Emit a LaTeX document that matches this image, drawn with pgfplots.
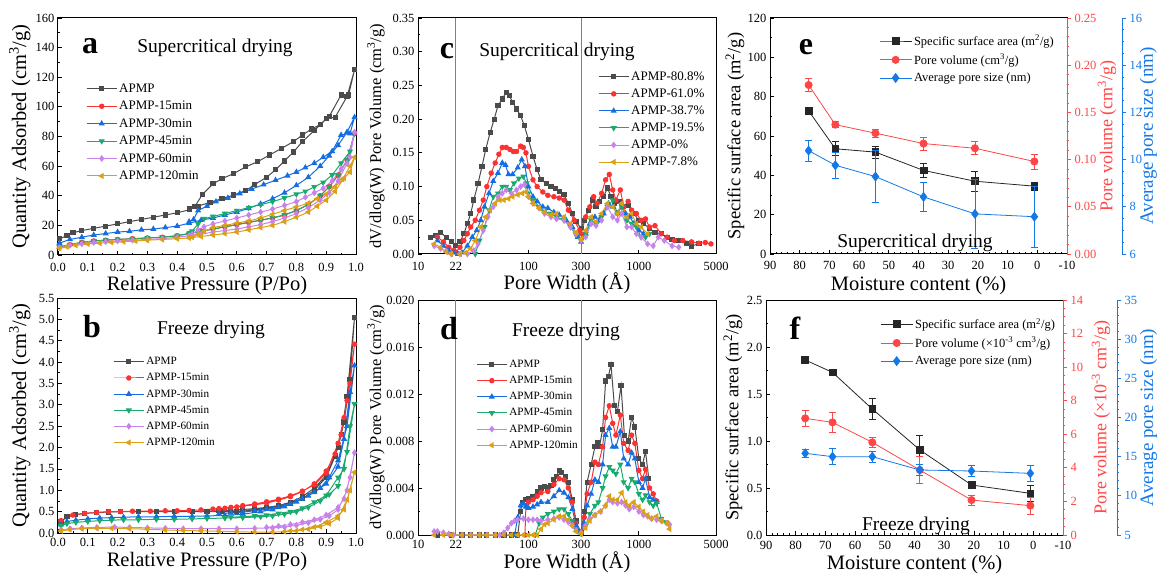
\documentclass[border=0pt]{standalone}
\usepackage{fontspec}
\setmainfont{Liberation Serif}
\usepackage{pgfplots}
\pgfplotsset{compat=1.18}
\definecolor{cgray}{RGB}{75,75,75}
\definecolor{cred}{RGB}{250,50,50}
\definecolor{cblue}{RGB}{20,110,225}
\definecolor{cgreen}{RGB}{25,170,110}
\definecolor{cpurp}{RGB}{200,130,235}
\definecolor{corange}{RGB}{220,160,20}
\definecolor{ered}{RGB}{255,70,70}
\definecolor{eblue}{RGB}{20,120,230}
\newcommand{\fs}[1]{\fontsize{#1}{#1}\selectfont}
\pgfplotsset{
  panel/.style={scale only axis, anchor=south west, tick pos=left, tick align=inside,
    axis line style={line width=1pt}, every tick/.append style={line width=0.8pt, black},
    major tick length=4pt, minor tick length=2.2pt,
    tick label style={font=\fs{12.5}}, xticklabel shift=5pt,
    /pgf/number format/assume math mode=true, scaled ticks=false,
    label style={font=\fs{20.5}, inner sep=0pt},
    legend cell align=left,
    legend image code/.code={\draw[mark repeat=2,mark phase=2] plot coordinates {(0pt,0pt)(15pt,0pt)(30pt,0pt)};},
    legend style={draw=none, fill=none, anchor=north west},
  },
  yfix/.style={yticklabel style={/pgf/number format/fixed, /pgf/number format/fixed zerofill, /pgf/number format/precision=#1}},
  xfix/.style={xticklabel style={/pgf/number format/fixed, /pgf/number format/fixed zerofill, /pgf/number format/precision=#1}},
  sA/.style={color=cgray, mark=square*, line width=1pt, mark size=2.1pt},
  sB/.style={color=cred, mark=*, line width=1pt, mark size=2.2pt},
  sC/.style={color=cblue, mark=triangle*, line width=1pt, mark size=2.6pt},
  sD/.style={color=cgreen, mark=triangle*, mark options={rotate=180}, line width=1pt, mark size=2.6pt},
  sE/.style={color=cpurp, mark=diamond*, line width=1pt, mark size=2.6pt},
  sF/.style={color=corange, mark=triangle*, mark options={rotate=90}, line width=1pt, mark size=2.6pt},
  ebar/.style={error bars/.cd, y dir=both, y explicit,
    error bar style={line width=0.8pt}, error mark options={rotate=90, mark size=3.5pt, line width=0.8pt}},
  kS/.style={black!85, mark=square*, line width=0.8pt, mark size=3.4pt, mark options={solid}},
  rS/.style={ered, mark=*, line width=0.8pt, mark size=3.6pt},
  bS/.style={eblue, mark=diamond*, line width=0.8pt, mark size=4.4pt},
  raxis/.style={scale only axis, anchor=south west, axis x line=none, axis y line*=right,
    tick align=outside, major tick length=4pt, minor tick length=2pt,
    axis line style={line width=1pt}, tick label style={font=\fs{12.5}},
    /pgf/number format/assume math mode=true, scaled ticks=false, label style={font=\fs{18}, inner sep=0pt}},
}
\begin{document}
\begin{tikzpicture}
\useasboundingbox (0pt,0pt) rectangle (1161pt,576pt);

% ---------- a ----------
\begin{axis}[panel, at={(58pt,321pt)}, width=298pt, height=237pt,
  xmin=0, xmax=1, ymin=0, ymax=160,
  xtick={0,0.1,0.2,0.3,0.4,0.5,0.6,0.7,0.8,0.9,1.0}, ytick={0,20,40,60,80,100,120,140,160},
  minor x tick num=1, minor y tick num=1, xfix=1,
  xlabel={Relative Pressure (P/Po)}, ylabel={Quantity Adsorbed (cm\textsuperscript{3}/g)},
  xlabel style={at={(axis description cs:0.5,-0.127)}, anchor=center},
  ylabel style={at={(axis description cs:-0.128,0.5)}, anchor=center},
  legend style={at={(axis description cs:0.084,0.74)}, font=\fs{13}, row sep=3.3pt}]
\addplot[sA] coordinates {(0.005,11)(0.03,13)(0.05,15)(0.08,16.5)(0.12,18)(0.16,19.5)(0.2,21)(0.24,22.5)(0.28,24)(0.32,25.5)(0.36,27)(0.4,28.5)(0.44,30.5)(0.47,33)(0.51,35.5)(0.55,38)(0.59,40.5)(0.63,43.5)(0.66,47.5)(0.7,52.5)(0.73,57.5)(0.76,63.5)(0.79,69.5)(0.82,76.5)(0.86,84)(0.9,92)(0.93,93)(0.97,107)(0.995,125)(0.975,108)(0.95,108)(0.91,93.5)(0.88,88)(0.85,85)(0.82,81)(0.79,76.5)(0.75,72)(0.71,67.5)(0.67,63)(0.63,59.5)(0.59,55)(0.55,51.5)(0.52,48)(0.485,41)(0.46,33)(0.44,31)};
\addlegendentry{APMP}
\addplot[sB] coordinates {(0.005,5.5)(0.04,7)(0.08,8.5)(0.12,9.5)(0.16,10)(0.2,10.5)(0.25,11)(0.3,11.5)(0.35,12)(0.4,13)(0.44,14.5)(0.48,16)(0.52,17.5)(0.56,19)(0.6,20.5)(0.64,22)(0.68,23.5)(0.72,25)(0.76,27)(0.8,30)(0.84,34)(0.88,40)(0.91,46)(0.94,54)(0.97,64)(0.995,82)};
\addlegendentry{APMP-15min}
\addplot[sC] coordinates {(0.005,8)(0.04,10.5)(0.08,12)(0.12,13.5)(0.16,14.5)(0.2,15.5)(0.24,16)(0.28,17)(0.32,17.5)(0.36,18.5)(0.4,19.5)(0.44,21.5)(0.48,23.5)(0.52,25)(0.56,27)(0.6,29)(0.64,31.5)(0.68,34.5)(0.72,38)(0.76,42)(0.8,47)(0.84,52.5)(0.88,60)(0.91,67)(0.94,74)(0.97,83)(0.995,93)(0.98,82)(0.95,81)(0.92,70)(0.89,66)(0.86,62)(0.83,59)(0.8,56)(0.77,53.5)(0.73,50.5)(0.69,47.5)(0.65,44.5)(0.61,41.5)(0.57,38.5)(0.53,36)(0.5,33)(0.47,30)(0.455,24)(0.44,22.5)};
\addlegendentry{APMP-30min}
\addplot[sD] coordinates {(0.005,5.5)(0.04,7)(0.08,8.5)(0.12,9.5)(0.16,10)(0.2,10.5)(0.25,11)(0.3,11.5)(0.35,12)(0.4,13)(0.44,14.5)(0.48,16)(0.52,17.5)(0.56,19)(0.6,20.5)(0.64,22)(0.68,23.5)(0.72,25)(0.76,27)(0.8,30)(0.84,34)(0.88,40)(0.91,46)(0.94,54)(0.97,64)(0.995,82)(0.98,70)(0.95,62)(0.92,54)(0.89,49)(0.86,46)(0.83,43)(0.8,41)(0.76,38.5)(0.72,36)(0.68,34)(0.64,32)(0.6,30)(0.56,28)(0.52,26)(0.49,24.5)(0.47,21)(0.45,16)};
\addlegendentry{APMP-45min}
\addplot[sE] coordinates {(0.005,5)(0.04,6.5)(0.08,7.5)(0.12,8.5)(0.16,9)(0.2,9.5)(0.25,10)(0.3,10.5)(0.35,11)(0.4,12)(0.44,13)(0.48,14)(0.52,15.5)(0.56,16.5)(0.6,17.5)(0.64,19)(0.68,20.5)(0.72,22.5)(0.76,25)(0.8,28)(0.84,32)(0.88,37)(0.91,42)(0.94,50)(0.97,62)(0.995,83)(0.98,66)(0.95,58)(0.92,50)(0.89,45)(0.86,42)(0.83,39)(0.8,36)(0.76,33.5)(0.72,31)(0.68,29)(0.64,27)(0.6,25)(0.56,23)(0.52,21)(0.49,19)(0.47,17)(0.45,14)};
\addlegendentry{APMP-60min}
\addplot[sF] coordinates {(0.005,4.5)(0.03,5.5)(0.06,6.5)(0.1,7.5)(0.14,8)(0.18,8.5)(0.22,9)(0.26,9.5)(0.3,10)(0.35,10.5)(0.4,11)(0.44,11.5)(0.48,12.5)(0.52,13.5)(0.56,14.5)(0.6,15.5)(0.64,17)(0.68,18.5)(0.72,20)(0.76,22.5)(0.8,25.5)(0.84,29)(0.87,33)(0.9,37)(0.93,43)(0.96,52)(0.98,56)(0.995,66)(0.98,60)(0.955,51)(0.93,46)(0.9,41)(0.87,38)(0.84,35)(0.8,32.5)(0.76,30)(0.72,27.5)(0.68,25)(0.64,23)(0.6,21.5)(0.56,20)(0.52,18.5)(0.49,16)(0.47,14)(0.45,12)};
\addlegendentry{APMP-120min}
\end{axis}

% ---------- b ----------
\begin{axis}[panel, at={(58pt,43pt)}, width=298pt, height=235pt, xticklabel shift=2pt,
  xmin=0, xmax=1, ymin=0, ymax=5.5,
  xtick={0,0.1,0.2,0.3,0.4,0.5,0.6,0.7,0.8,0.9,1.0}, ytick={0,0.5,1,1.5,2,2.5,3,3.5,4,4.5,5,5.5},
  minor x tick num=1, minor y tick num=1, xfix=1, yfix=1,
  xlabel={Relative Pressure (P/Po)}, ylabel={Quantity Adsorbed (cm\textsuperscript{3}/g)},
  xlabel style={at={(axis description cs:0.5,-0.121)}, anchor=center},
  ylabel style={at={(axis description cs:-0.128,0.5)}, anchor=center},
  legend style={at={(axis description cs:0.175,0.765)}, font=\fs{11.2}, row sep=3.2pt}]
\addplot[sA] coordinates {(0.01,0.27)(0.03,0.38)(0.06,0.43)(0.09,0.46)(0.13,0.48)(0.17,0.49)(0.21,0.5)(0.27,0.5)(0.33,0.5)(0.39,0.5)(0.45,0.5)(0.5,0.5)(0.55,0.5)(0.6,0.5)(0.66,0.54)(0.7,0.57)(0.74,0.62)(0.78,0.7)(0.82,0.8)(0.86,1.0)(0.9,1.3)(0.93,1.8)(0.95,2.3)(0.97,3.2)(0.995,5.05)(0.98,3.6)(0.96,2.6)(0.94,2.0)(0.9,1.35)(0.86,1.05)(0.82,0.85)(0.78,0.72)(0.74,0.64)(0.7,0.6)(0.66,0.57)(0.62,0.55)(0.58,0.53)(0.54,0.52)(0.5,0.51)};
\addlegendentry{APMP}
\addplot[sB] coordinates {(0.01,0.29)(0.05,0.42)(0.09,0.46)(0.13,0.48)(0.17,0.5)(0.21,0.5)(0.25,0.51)(0.31,0.51)(0.36,0.52)(0.4,0.52)(0.44,0.53)(0.48,0.54)(0.52,0.56)(0.56,0.58)(0.6,0.61)(0.62,0.63)(0.66,0.66)(0.7,0.7)(0.74,0.77)(0.78,0.85)(0.82,0.97)(0.86,1.15)(0.9,1.45)(0.93,1.85)(0.95,2.3)(0.97,3.1)(0.995,4.42)(0.98,3.5)(0.96,2.7)(0.94,2.1)(0.9,1.4)(0.86,1.13)(0.82,0.98)(0.78,0.87)(0.74,0.79)(0.7,0.73)(0.66,0.68)(0.62,0.64)(0.58,0.6)(0.54,0.57)};
\addlegendentry{APMP-15min}
\addplot[sC] coordinates {(0.01,0.2)(0.03,0.27)(0.06,0.3)(0.1,0.33)(0.14,0.35)(0.18,0.36)(0.22,0.37)(0.27,0.38)(0.33,0.38)(0.39,0.39)(0.45,0.39)(0.5,0.4)(0.56,0.41)(0.62,0.44)(0.68,0.5)(0.72,0.55)(0.76,0.62)(0.8,0.73)(0.84,0.87)(0.88,1.05)(0.91,1.3)(0.94,1.7)(0.97,2.5)(0.995,3.92)(0.98,3.3)(0.96,2.2)(0.94,1.55)(0.9,1.15)(0.86,0.95)(0.82,0.8)(0.78,0.68)(0.74,0.6)(0.7,0.56)(0.66,0.52)(0.62,0.49)(0.58,0.47)(0.54,0.45)};
\addlegendentry{APMP-30min}
\addplot[sD] coordinates {(0.01,0.17)(0.03,0.22)(0.06,0.25)(0.1,0.27)(0.14,0.29)(0.18,0.3)(0.22,0.31)(0.27,0.31)(0.33,0.32)(0.39,0.32)(0.45,0.33)(0.5,0.34)(0.56,0.35)(0.62,0.36)(0.68,0.38)(0.72,0.4)(0.76,0.44)(0.8,0.5)(0.84,0.6)(0.88,0.75)(0.91,0.9)(0.94,1.1)(0.97,1.9)(0.995,3.02)(0.98,2.5)(0.96,1.5)(0.94,1.3)(0.9,0.88)(0.86,0.72)(0.82,0.58)(0.78,0.5)(0.74,0.46)(0.7,0.42)(0.66,0.4)(0.62,0.38)(0.58,0.37)};
\addlegendentry{APMP-45min}
\addplot[sE] coordinates {(0.01,0.07)(0.04,0.1)(0.08,0.12)(0.13,0.13)(0.19,0.14)(0.24,0.13)(0.3,0.12)(0.36,0.11)(0.42,0.1)(0.48,0.1)(0.54,0.1)(0.6,0.1)(0.66,0.11)(0.72,0.12)(0.76,0.14)(0.8,0.18)(0.84,0.24)(0.88,0.32)(0.91,0.4)(0.94,0.55)(0.97,1.0)(0.995,1.88)(0.98,1.3)(0.96,0.8)(0.94,0.6)(0.9,0.42)(0.86,0.31)(0.82,0.25)(0.78,0.2)(0.74,0.16)(0.7,0.13)};
\addlegendentry{APMP-60min}
\addplot[sF] coordinates {(0.01,0.05)(0.04,0.08)(0.08,0.1)(0.13,0.11)(0.18,0.11)(0.24,0.1)(0.3,0.09)(0.36,0.07)(0.42,0.06)(0.48,0.05)(0.54,0.04)(0.6,0.03)(0.66,0.02)(0.72,0.02)(0.76,0.03)(0.8,0.05)(0.84,0.09)(0.88,0.15)(0.91,0.22)(0.94,0.35)(0.97,0.78)(0.995,1.42)(0.98,1.0)(0.96,0.55)(0.94,0.4)(0.9,0.25)(0.86,0.14)(0.82,0.08)(0.78,0.05)};
\addlegendentry{APMP-120min}
\end{axis}

% ---------- c ----------
\begin{axis}[panel, at={(418pt,322pt)}, width=298pt, height=236pt,
  xmode=log, xmin=10, xmax=5000, xtick={10,22,100,300,1000,5000},
  xticklabels={10,22,100,300,1000,5000}, xminorticks=false,
  ymin=0, ymax=0.35, ytick={0,0.05,0.1,0.15,0.2,0.25,0.3,0.35}, minor y tick num=1, yfix=2,
  xlabel={Pore Width (Å)}, ylabel={dV/dlog(W) Pore Volume (cm\textsuperscript{3}/g)},
  ylabel style={font=\fs{16.5}, at={(axis description cs:-0.141,0.5)}, anchor=center},
  xlabel style={at={(axis description cs:0.5,-0.125)}, anchor=center},
  legend style={at={(axis description cs:0.594,0.79)}, font=\fs{13}, row sep=2.9pt}]
\addplot[gray, line width=1pt, forget plot] coordinates {(22,0)(22,0.35)};
\addplot[gray, line width=1pt, forget plot] coordinates {(300,0)(300,0.35)};
\addplot[sA] coordinates {(13,0.025)(14.5,0.028)(16,0.032)(18,0.025)(20,0.018)(22,0.013)(24,0.018)(26,0.03)(28,0.045)(30,0.06)(32,0.08)(35,0.105)(38,0.13)(41,0.155)(45,0.18)(49,0.2)(53,0.22)(58,0.23)(63,0.24)(67,0.235)(72,0.225)(78,0.215)(85,0.205)(92,0.19)(100,0.17)(110,0.145)(120,0.125)(130,0.11)(145,0.105)(160,0.1)(175,0.097)(190,0.093)(210,0.088)(230,0.075)(250,0.06)(270,0.048)(300,0.038)(320,0.05)(350,0.065)(380,0.08)(410,0.07)(440,0.078)(480,0.085)(520,0.098)(560,0.085)(600,0.075)(660,0.078)(720,0.07)(800,0.072)(900,0.06)(1000,0.05)(1100,0.045)(1250,0.038)(1400,0.032)(1600,0.03)(1800,0.025)(2000,0.022)(2300,0.02)(2700,0.015)(3000,0.012)(3500,0.015)};
\addlegendentry{APMP-80.8\%}
\addplot[sB] coordinates {(15,0.025)(17,0.018)(19,0.01)(21,0.005)(22,0.003)(24,0.01)(26,0.02)(28,0.03)(30,0.04)(33,0.05)(36,0.065)(39,0.08)(42,0.1)(46,0.12)(50,0.135)(54,0.148)(58,0.158)(63,0.158)(68,0.155)(73,0.152)(78,0.152)(85,0.16)(90,0.158)(95,0.15)(100,0.13)(110,0.11)(120,0.1)(135,0.092)(150,0.087)(170,0.085)(190,0.083)(210,0.08)(230,0.065)(260,0.05)(290,0.035)(300,0.03)(330,0.055)(360,0.07)(390,0.085)(420,0.075)(460,0.09)(500,0.11)(540,0.118)(580,0.095)(620,0.08)(680,0.095)(730,0.07)(800,0.078)(860,0.065)(950,0.06)(1050,0.05)(1150,0.052)(1250,0.04)(1400,0.042)(1600,0.03)(1800,0.025)(2100,0.02)(2500,0.02)(3000,0.018)(3500,0.016)(4000,0.017)(4500,0.015)};
\addlegendentry{APMP-61.0\%}
\addplot[sC] coordinates {(15,0.02)(17,0.012)(19,0.005)(21,0.002)(23,0)(25,0.002)(28,0.012)(31,0.025)(34,0.035)(37,0.05)(40,0.07)(44,0.09)(48,0.108)(53,0.12)(58,0.135)(62,0.132)(66,0.118)(72,0.118)(80,0.128)(87,0.14)(93,0.13)(100,0.1)(110,0.085)(120,0.078)(135,0.07)(150,0.068)(170,0.062)(190,0.058)(220,0.05)(250,0.04)(280,0.025)(300,0.018)(330,0.03)(360,0.045)(400,0.055)(440,0.05)(480,0.06)(530,0.075)(580,0.07)(640,0.06)(700,0.075)(760,0.06)(830,0.055)(900,0.045)(1000,0.035)(1100,0.03)};
\addlegendentry{APMP-38.7\%}
\addplot[sD] coordinates {(33,0)(36,0.02)(40,0.04)(44,0.065)(48,0.085)(53,0.09)(58,0.1)(63,0.1)(68,0.095)(74,0.105)(82,0.112)(90,0.115)(96,0.105)(100,0.09)(110,0.08)(125,0.07)(140,0.063)(160,0.06)(180,0.055)(210,0.05)(240,0.04)(270,0.028)(300,0.02)(330,0.03)(370,0.05)(410,0.045)(460,0.055)(520,0.07)(580,0.08)(640,0.06)(700,0.07)(780,0.05)(860,0.045)(950,0.04)(1050,0.025)(1150,0.025)(1250,0.03)};
\addlegendentry{APMP-19.5\%}
\addplot[sE] coordinates {(14,0.012)(16,0.008)(18,0.004)(20,0)(24,0)(28,0)(32,0.005)(35,0.015)(39,0.035)(43,0.055)(48,0.07)(53,0.085)(58,0.09)(63,0.095)(70,0.09)(78,0.095)(85,0.1)(92,0.103)(100,0.085)(110,0.075)(125,0.068)(140,0.06)(160,0.055)(180,0.052)(210,0.05)(240,0.04)(270,0.03)(300,0.02)(330,0.025)(370,0.045)(410,0.042)(460,0.05)(520,0.07)(580,0.055)(640,0.05)(700,0.06)(780,0.04)(860,0.04)(950,0.03)(1050,0.025)(1200,0.015)(1350,0.012)(1500,0.025)(1700,0.02)(2000,0.012)(2300,0.01)};
\addlegendentry{APMP-0\%}
\addplot[sF] coordinates {(14,0.015)(16,0.01)(18,0.003)(20,0)(24,0)(27,0.002)(30,0.008)(33,0.02)(37,0.04)(41,0.055)(45,0.065)(50,0.075)(55,0.08)(60,0.08)(66,0.082)(72,0.085)(80,0.088)(88,0.09)(95,0.092)(100,0.085)(110,0.075)(125,0.068)(140,0.062)(160,0.058)(180,0.06)(210,0.055)(240,0.045)(270,0.032)(300,0.022)(330,0.035)(370,0.055)(410,0.048)(460,0.06)(520,0.075)(580,0.07)(640,0.06)(700,0.075)(780,0.055)(860,0.06)(950,0.045)(1050,0.04)(1200,0.03)};
\addlegendentry{APMP-7.8\%}
\end{axis}

% ---------- d ----------
\begin{axis}[panel, at={(418pt,41pt)}, width=298pt, height=235pt, xticklabel shift=2pt,
  xmode=log, xmin=10, xmax=5000, xtick={10,22,100,300,1000,5000},
  xticklabels={10,22,100,300,1000,5000}, xminorticks=false,
  ymin=0, ymax=0.02, ytick={0,0.004,0.008,0.012,0.016,0.02}, minor y tick num=1, yfix=3,
  xlabel={Pore Width (Å)}, ylabel={dV/dlog(W) Pore Volume (cm\textsuperscript{3}/g)},
  ylabel style={font=\fs{16.5}, at={(axis description cs:-0.141,0.5)}, anchor=center},
  xlabel style={at={(axis description cs:0.5,-0.117)}, anchor=center},
  legend style={at={(axis description cs:0.185,0.762)}, font=\fs{11.2}, row sep=3.2pt}]
\addplot[gray, line width=1pt, forget plot] coordinates {(22,0)(22,0.02)};
\addplot[gray, line width=1pt, forget plot] coordinates {(300,0)(300,0.02)};
\addplot[sA] coordinates {(15,0)(20,0)(25,0)(30,0)(36,0)(42,0)(50,0)(60,0)(70,0)(80,0)(85,0.002)(88,0.0028)(95,0.003)(100,0.0031)(110,0.0033)(120,0.0037)(130,0.004)(140,0.0041)(150,0.004)(160,0.0042)(170,0.0047)(180,0.005)(190,0.0055)(200,0.0053)(215,0.005)(230,0.0045)(250,0.003)(270,0.0012)(290,0.0003)(300,0.0002)(320,0.002)(340,0.0045)(370,0.006)(400,0.0075)(420,0.0079)(440,0.0075)(470,0.009)(500,0.0131)(530,0.0135)(560,0.0145)(600,0.011)(640,0.0105)(690,0.0127)(740,0.0085)(800,0.008)(860,0.01)(920,0.0092)(1000,0.0065)(1080,0.006)(1150,0.0071)(1230,0.0048)};
\addlegendentry{APMP}
\addplot[sB] coordinates {(93,0)(95,0.0025)(100,0.0028)(110,0.003)(120,0.0033)(130,0.0036)(150,0.0037)(170,0.0043)(190,0.0048)(210,0.0047)(230,0.004)(250,0.0028)(270,0.001)(300,0.0003)(320,0.0015)(340,0.0035)(370,0.0045)(400,0.0062)(430,0.006)(470,0.0075)(500,0.01)(540,0.011)(580,0.0095)(620,0.0085)(680,0.0102)(730,0.0078)(800,0.0072)(860,0.0085)(920,0.0078)(1000,0.0055)(1080,0.0048)(1150,0.0056)(1250,0.004)(1350,0.0035)(1450,0.0029)};
\addlegendentry{APMP-15min}
\addplot[sC] coordinates {(75,0)(80,0.0015)(85,0.0025)(90,0.0027)(95,0.0024)(100,0.0023)(110,0.0024)(120,0.0026)(130,0.0028)(150,0.0028)(170,0.0033)(190,0.0038)(210,0.0036)(230,0.0032)(250,0.0022)(270,0.0008)(300,0.0002)(320,0.001)(340,0.0025)(370,0.0035)(400,0.0047)(430,0.0045)(470,0.006)(500,0.0085)(540,0.0091)(580,0.0075)(620,0.0075)(680,0.0088)(730,0.0065)(800,0.006)(860,0.007)(920,0.0065)(1000,0.0045)(1080,0.004)(1150,0.0048)(1250,0.0032)(1350,0.003)(1450,0.0028)};
\addlegendentry{APMP-30min}
\addplot[sD] coordinates {(115,0)(125,0.001)(135,0.0015)(150,0.0018)(170,0.002)(190,0.0022)(210,0.0022)(230,0.0018)(250,0.0012)(270,0.0005)(300,0.0001)(330,0.0008)(360,0.0018)(400,0.0025)(430,0.0028)(470,0.004)(500,0.005)(540,0.0058)(580,0.0055)(620,0.0052)(680,0.006)(730,0.0045)(800,0.004)(860,0.0048)(920,0.0045)(1000,0.0035)(1080,0.003)(1150,0.0034)(1250,0.0028)(1350,0.0025)(1450,0.0027)(1600,0.0014)(1750,0.0011)};
\addlegendentry{APMP-45min}
\addplot[sE] coordinates {(14,0.0003)(15,0.0003)(17,0.0002)(19,0.0001)(21,0)(25,0)(30,0)(36,0)(42,0)(50,0)(55,0)(60,0.0002)(65,0.0006)(70,0.001)(75,0.0012)(80,0.0013)(90,0.0014)(100,0.0013)(110,0.0013)(120,0.0013)(130,0.0012)(150,0.0013)(170,0.0014)(190,0.0015)(210,0.0013)(230,0.0011)(250,0.0008)(270,0.0004)(300,0.0002)(330,0.0008)(360,0.0014)(400,0.0017)(450,0.002)(500,0.0025)(540,0.003)(580,0.0028)(640,0.0027)(700,0.0028)(760,0.0025)(820,0.0022)(900,0.0024)(1000,0.002)(1100,0.0017)(1200,0.0016)(1300,0.0014)(1450,0.0013)(1600,0.0012)(1800,0.001)(1900,0.0009)};
\addlegendentry{APMP-60min}
\addplot[sF] coordinates {(14,0)(17,0)(20,0)(25,0)(30,0)(36,0)(42,0)(50,0)(60,0)(70,0)(80,0)(90,0)(100,0)(110,0)(120,0)(130,0.0005)(140,0.0009)(150,0.001)(170,0.0013)(190,0.0016)(210,0.0016)(230,0.0013)(250,0.0008)(270,0.0003)(300,0.0001)(330,0.0006)(360,0.0012)(400,0.0017)(450,0.002)(500,0.0025)(540,0.0033)(580,0.003)(640,0.003)(700,0.0036)(760,0.0028)(820,0.0025)(900,0.0028)(1000,0.0024)(1100,0.002)(1200,0.0017)(1300,0.0014)(1450,0.0016)(1600,0.0012)(1800,0.001)(1900,0.0005)};
\addlegendentry{APMP-120min}
\end{axis}

% ---------- e ----------
\begin{axis}[panel, at={(770pt,322pt)}, width=297pt, height=236pt, xticklabel shift=4pt,
  x dir=reverse, xmin=-10, xmax=90, xtick={-10,0,...,90}, minor x tick num=4,
  ymin=0, ymax=120, ytick={0,20,...,120}, minor y tick num=1,
  xlabel={Moisture content (\%)}, ylabel={Specific surface area (m\textsuperscript{2}/g)},
  xlabel style={at={(axis description cs:0.5,-0.135)}, anchor=center},
  ylabel style={font=\fs{18.5}, at={(axis description cs:-0.118,0.5)}, anchor=center},
  legend image code/.code={\draw[mark repeat=2,mark phase=2] plot coordinates {(0pt,0pt)(16pt,0pt)(32pt,0pt)};},
  legend style={at={(axis description cs:0.357,0.945)}, font=\fs{12.5}, row sep=3.2pt}]
\addplot[kS, ebar] coordinates {(77,72.8)+-(0,1.5)(68,53.5)+-(0,3.5)(54.5,51.8)+-(0,3)(38.3,42.5)+-(0,3.5)(21,37)+-(0,5)(1,34.5)+-(0,2)};
\addlegendentry{Specific surface area (m\textsuperscript{2}/g)}
\addlegendimage{rS}
\addlegendentry{Pore volume (cm\textsuperscript{3}/g)}
\addlegendimage{bS}
\addlegendentry{Average pore size (nm)}
\end{axis}
\begin{axis}[raxis, at={(770pt,322pt)}, width=297pt, height=236pt,
  x dir=reverse, xmin=-10, xmax=90,
  ymin=0, ymax=0.25, ytick={0,0.05,...,0.25}, yfix=2, minor y tick num=4,
  y axis line style={ered}, every y tick/.style={ered, line width=0.8pt}, yticklabel style={text=ered},
  ylabel={Pore volume (cm\textsuperscript{3}/g)}, ylabel style={text=ered, at={(axis description cs:1.135,0.5)}, anchor=center}]
\addplot[rS, ebar] coordinates {(77,0.179)+-(0,0.007)(68,0.137)+-(0,0.003)(54.5,0.128)+-(0,0.004)(38.3,0.117)+-(0,0.007)(21,0.112)+-(0,0.007)(1,0.098)+-(0,0.008)};
\end{axis}
\begin{axis}[raxis, at={(770pt,322pt)}, width=352pt, height=236pt, x dir=reverse, xmin=-28.5, xmax=90,
  ymin=6, ymax=16, ytick={6,8,...,16}, minor y tick num=3,
  y axis line style={eblue}, every y tick/.style={eblue, line width=0.8pt}, yticklabel style={text=eblue},
  ylabel={Average pore size (nm)}, ylabel style={font=\fs{19}, text=eblue, at={(axis description cs:1.075,0.5)}, anchor=center}]
\addplot[bS, ebar] coordinates {(77,10.38)+-(0,0.45)(68,9.76)+-(0,0.55)(54.5,9.28)+-(0,1.1)(38.3,8.42)+-(0,0.6)(21,7.7)+-(0,1.45)(1,7.58)+-(0,1.3)};
\end{axis}

% ---------- f ----------
\begin{axis}[panel, at={(766pt,41pt)}, width=297pt, height=235pt, xticklabel shift=3pt,
  x dir=reverse, xmin=-10, xmax=90, xtick={-10,0,...,90}, minor x tick num=4,
  ymin=0, ymax=2.5, ytick={0,0.5,...,2.5}, yfix=1, minor y tick num=1,
  xlabel={Moisture content (\%)}, ylabel={Specific surface area (m\textsuperscript{2}/g)},
  xlabel style={at={(axis description cs:0.5,-0.125)}, anchor=center},
  ylabel style={font=\fs{18.5}, at={(axis description cs:-0.111,0.5)}, anchor=center},
  legend image code/.code={\draw[mark repeat=2,mark phase=2] plot coordinates {(0pt,0pt)(16pt,0pt)(32pt,0pt)};},
  legend style={at={(axis description cs:0.374,0.94)}, font=\fs{12.5}, row sep=3.2pt}]
\addplot[kS, ebar] coordinates {(76.8,1.862)+-(0,0.03)(67.6,1.73)+-(0,0.02)(54.2,1.34)+-(0,0.11)(38.2,0.905)+-(0,0.15)(20.8,0.532)+-(0,0.03)(1,0.443)+-(0,0.09)};
\addlegendentry{Specific surface area (m\textsuperscript{2}/g)}
\addlegendimage{rS}
\addlegendentry{Pore volume (\texttimes10\textsuperscript{-3} cm\textsuperscript{3}/g)}
\addlegendimage{bS}
\addlegendentry{Average pore size (nm)}
\end{axis}
\begin{axis}[raxis, at={(766pt,41pt)}, width=297pt, height=235pt,
  x dir=reverse, xmin=-10, xmax=90,
  ymin=0, ymax=14, ytick={0,2,...,14}, minor y tick num=3,
  y axis line style={ered}, every y tick/.style={ered, line width=0.8pt}, yticklabel style={text=ered},
  ylabel={Pore volume (\texttimes10\textsuperscript{-3} cm\textsuperscript{3}/g)}, ylabel style={text=ered, at={(axis description cs:1.128,0.5)}, anchor=center}]
\addplot[rS, ebar] coordinates {(76.8,6.95)+-(0,0.5)(67.6,6.71)+-(0,0.6)(54.2,5.52)+-(0,0.3)(38.2,3.87)+-(0,0.8)(20.8,2.08)+-(0,0.3)(1,1.75)+-(0,0.5)};
\end{axis}
\begin{axis}[raxis, at={(766pt,41pt)}, width=351pt, height=235pt, x dir=reverse, xmin=-28.2, xmax=90,
  ymin=5, ymax=35, ytick={5,10,...,35}, minor y tick num=4,
  y axis line style={eblue}, every y tick/.style={eblue, line width=0.8pt}, yticklabel style={text=eblue},
  ylabel={Average pore size (nm)}, ylabel style={font=\fs{19}, text=eblue, at={(axis description cs:1.09,0.5)}, anchor=center}]
\addplot[bS, ebar] coordinates {(76.8,15.43)+-(0,0.5)(67.6,15.0)+-(0,1.0)(54.2,15.0)+-(0,0.7)(38.2,13.3)+-(0,0.7)(20.8,13.17)+-(0,0.7)(1,12.87)+-(0,1.0)};
\end{axis}

% panel letters and titles
\node[anchor=base, font=\bfseries\fs{32}] at (90pt,522pt) {a};
\node[anchor=base, font=\fs{19.5}] at (215pt,523pt) {Supercritical drying};
\node[anchor=base, font=\bfseries\fs{32}] at (92pt,238pt) {b};
\node[anchor=base, font=\fs{19.5}] at (211pt,241pt) {Freeze drying};
\node[anchor=base, font=\bfseries\fs{32}] at (447pt,517pt) {c};
\node[anchor=base, font=\fs{19.5}] at (557pt,519pt) {Supercritical drying};
\node[anchor=base, font=\bfseries\fs{32}] at (449pt,236pt) {d};
\node[anchor=base, font=\fs{19.5}] at (566pt,239pt) {Freeze drying};
\node[anchor=base, font=\bfseries\fs{32}] at (806pt,521pt) {e};
\node[anchor=base, font=\fs{19.5}] at (915pt,328pt) {Supercritical drying};
\node[anchor=base, font=\bfseries\fs{32}] at (795pt,236pt) {f};
\node[anchor=base, font=\fs{19.5}] at (916pt,46pt) {Freeze drying};
\end{tikzpicture}
\end{document}
